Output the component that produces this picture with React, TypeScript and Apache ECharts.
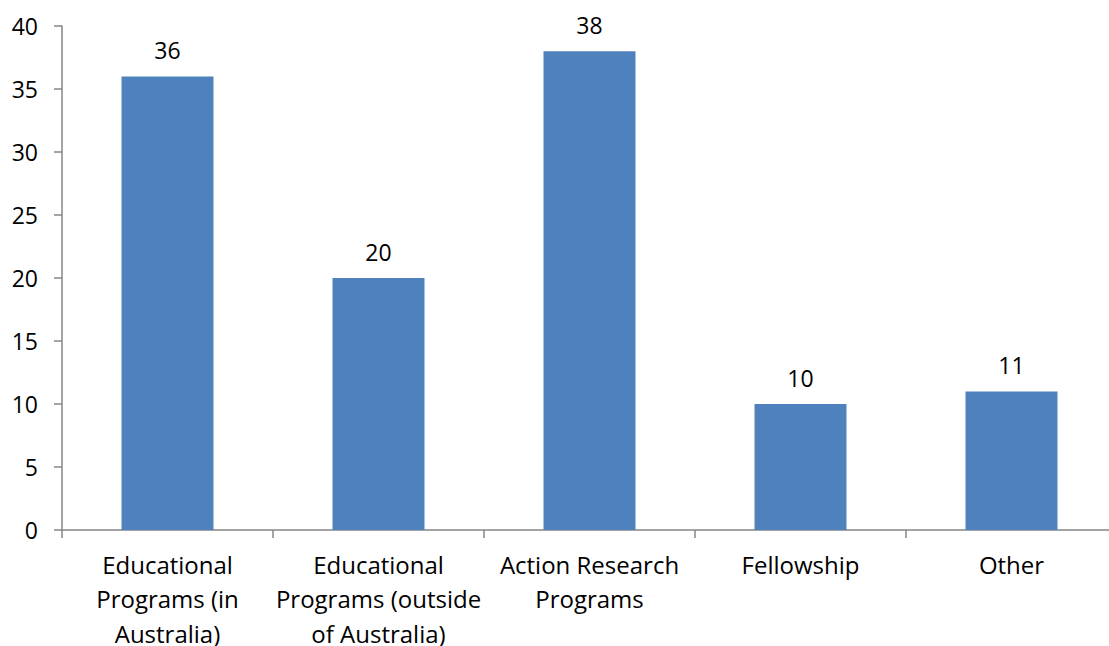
import React, { useEffect, useRef } from "react";
import * as echarts from "echarts";

const categories = [
  "Educational Programs (in Australia)",
  "Educational Programs (outside of Australia)",
  "Action Research Programs",
  "Fellowship",
  "Other",
];
const tickLabels = [
  "Educational\nPrograms (in\nAustralia)",
  "Educational\nPrograms (outside\nof Australia)",
  "Action Research\nPrograms",
  "Fellowship",
  "Other",
];
const values = [36, 20, 38, 10, 11];

const FONT = "Open Sans";

export default function App() {
  const ref = useRef<HTMLDivElement>(null);
  useEffect(() => {
    if (!ref.current) return;
    const chart = echarts.init(ref.current, undefined, { renderer: "svg" });
    chart.setOption({
      animation: false,
      backgroundColor: "#ffffff",
      grid: {
        left: 62,
        top: 26,
        width: 1055,
        height: 504,
        containLabel: false,
        outerBoundsMode: "none",
      },
      xAxis: {
        type: "category",
        data: categories,
        axisLine: { show: true, lineStyle: { color: "#868686", width: 1.5 } },
        axisTick: { show: true, length: 8, lineStyle: { color: "#868686", width: 1.5 } },
        axisLabel: {
          interval: 0,
          margin: 17,
          color: "#000",
          fontFamily: FONT,
          fontSize: 24,
          lineHeight: 34.5,
          formatter: (_v: string, i: number) => tickLabels[i],
        },
        splitLine: { show: false },
      },
      yAxis: {
        type: "value",
        min: 0,
        max: 40,
        interval: 5,
        axisLine: { show: true, lineStyle: { color: "#868686", width: 1.5 } },
        axisTick: { show: true, length: 8, lineStyle: { color: "#868686", width: 1.5 } },
        axisLabel: { margin: 24, color: "#000", fontFamily: FONT, fontSize: 23 },
        splitLine: { show: false },
      },
      series: [
        {
          type: "bar",
          data: values,
          barWidth: 92,
          itemStyle: { color: "#4F81BD" },
          label: {
            show: true,
            position: "top",
            distance: 15,
            color: "#000",
            fontFamily: FONT,
            fontSize: 23,
          },
        },
      ],
    });
    return () => chart.dispose();
  }, []);
  return (
    <div
      ref={ref}
      style={{ position: "absolute", left: 0, top: 0, width: 1109, height: 646 }}
    />
  );
}
